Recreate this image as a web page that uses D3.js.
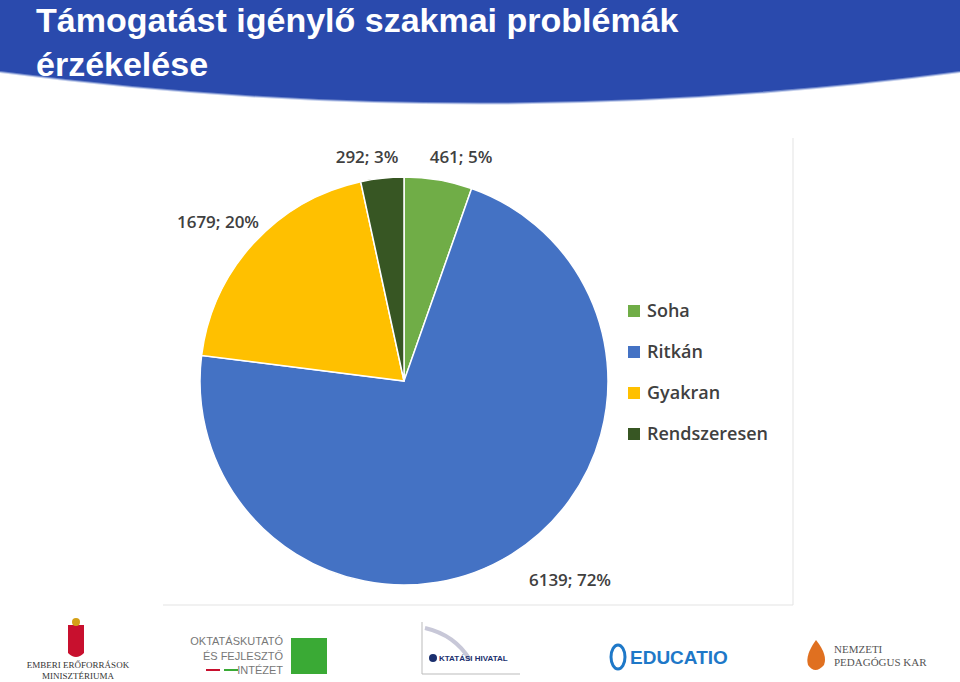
<!DOCTYPE html>
<html><head><meta charset="utf-8">
<script src="https://cdn.jsdelivr.net/npm/d3@7"></script>
<style>body{margin:0;background:#fff}svg{display:block}</style>
</head><body><svg id="c" width="960" height="682"></svg>
<script>
const categories=["Soha","Ritkán","Gyakran","Rendszeresen"];
const values=[461,6139,1679,292];
const percents=["5%","72%","20%","3%"];
const colors=["#70ad47","#4472c4","#ffc000","#375623"];
const svg=d3.select("#c");
svg.append("path").attr("d","M0,0H960V72Q480,135 0,72Z").attr("fill","#2a4aad");
svg.append("path").attr("d","M0,72Q480,135 960,72").attr("fill","none").attr("stroke","#9fb0e0").attr("stroke-width",2).attr("opacity",0.6);
const tt=svg.append("text").attr("fill","#fff").attr("font-family","Liberation Sans Narrow, Liberation Sans, Arial").attr("font-weight","bold").attr("font-size",34);
tt.append("tspan").attr("x",36).attr("y",32).text("Támogatást igénylő szakmai problémák");
tt.append("tspan").attr("x",36).attr("y",76).text("érzékelése");
svg.append("path").attr("d","M163,605H793V138").attr("fill","none").attr("stroke","#e3e3e3");
const cx=404,cy=381,r=204;
const pie=d3.pie().sort(null).value(d=>d)(values);
const arc=d3.arc().innerRadius(0).outerRadius(r);
const g=svg.append("g").attr("transform",`translate(${cx},${cy})`);
g.selectAll("path").data(pie).join("path").attr("d",arc).attr("fill",(d,i)=>colors[i]).attr("stroke","#fff").attr("stroke-width",1.5);
const labelPos=[[461,157],[570,580],[218,222],[367,157]];
svg.selectAll("text.lb").data(pie).join("text").attr("class","lb")
 .attr("x",(d,i)=>labelPos[i][0]).attr("y",(d,i)=>labelPos[i][1]).attr("dy","0.35em")
 .attr("text-anchor","middle").attr("font-family","Open Sans, sans-serif").attr("font-weight","600").attr("font-size",17).attr("fill","#404040")
 .text((d,i)=>values[i]+"; "+percents[i]);
const lg=svg.append("g");
categories.forEach((c,i)=>{
 const y=311+i*41;
 lg.append("rect").attr("x",628).attr("y",y-6).attr("width",12).attr("height",12).attr("fill",colors[i]);
 lg.append("text").attr("x",647).attr("y",y).attr("dy","0.35em").attr("font-family","Open Sans, sans-serif").attr("font-weight","600").attr("font-size",18).attr("fill","#404040").text(c);
});
const L=svg.append("g").attr("font-family","Liberation Serif, serif");
L.append("path").attr("d","M68,625h16v28q-8,8-16,0Z").attr("fill","#c8102e");
L.append("circle").attr("cx",76).attr("cy",622).attr("r",4).attr("fill","#d4a017");
L.append("text").attr("x",78).attr("y",668).attr("text-anchor","middle").attr("font-size",9).attr("fill","#333").text("EMBERI ERŐFORRÁSOK");
L.append("text").attr("x",78).attr("y",679).attr("text-anchor","middle").attr("font-size",9).attr("fill","#333").text("MINISZTÉRIUMA");
const S=svg.append("g").attr("font-family","Liberation Sans Narrow, sans-serif").attr("fill","#777").attr("font-size",11);
S.append("text").attr("x",283).attr("y",645).attr("text-anchor","end").text("OKTATÁSKUTATÓ");
S.append("text").attr("x",283).attr("y",660).attr("text-anchor","end").text("ÉS FEJLESZTŐ");
S.append("text").attr("x",283).attr("y",674).attr("text-anchor","end").text("INTÉZET");
svg.append("line").attr("x1",206).attr("x2",220).attr("y1",670).attr("y2",670).attr("stroke","#c8102e").attr("stroke-width",2);
svg.append("line").attr("x1",224).attr("x2",238).attr("y1",670).attr("y2",670).attr("stroke","#3aaa35").attr("stroke-width",2);
svg.append("rect").attr("x",291).attr("y",638).attr("width",36).attr("height",36).attr("fill","#3aaa35");
svg.append("path").attr("d","M422,622V674H520").attr("fill","none").attr("stroke","#bbb");
svg.append("path").attr("d","M425,628Q455,635 470,660").attr("fill","none").attr("stroke","#c8c8d8").attr("stroke-width",4);
svg.append("circle").attr("cx",433).attr("cy",658).attr("r",4).attr("fill","#1a2f6e");
svg.append("text").attr("x",439).attr("y",661).attr("font-family","Liberation Sans, sans-serif").attr("font-weight","bold").attr("font-size",8).attr("fill","#1a2f6e").text("KTATÁSI HIVATAL");
svg.append("ellipse").attr("cx",618).attr("cy",657).attr("rx",7).attr("ry",12).attr("fill","none").attr("stroke","#1e78c8").attr("stroke-width",3);
svg.append("text").attr("x",630).attr("y",664).attr("font-family","Liberation Sans Narrow, sans-serif").attr("font-weight","bold").attr("font-size",19).attr("fill","#1e78c8").text("EDUCATIO");
svg.append("path").attr("d","M816,640Q805,655 808,665Q815,675 824,665Q828,655 816,640Z").attr("fill","#e07020");
svg.append("text").attr("x",834).attr("y",653).attr("font-family","Liberation Serif, serif").attr("font-size",11).attr("fill","#555").text("NEMZETI");
svg.append("text").attr("x",834).attr("y",666).attr("font-family","Liberation Serif, serif").attr("font-size",11).attr("fill","#555").text("PEDAGÓGUS KAR");
</script></body></html>
